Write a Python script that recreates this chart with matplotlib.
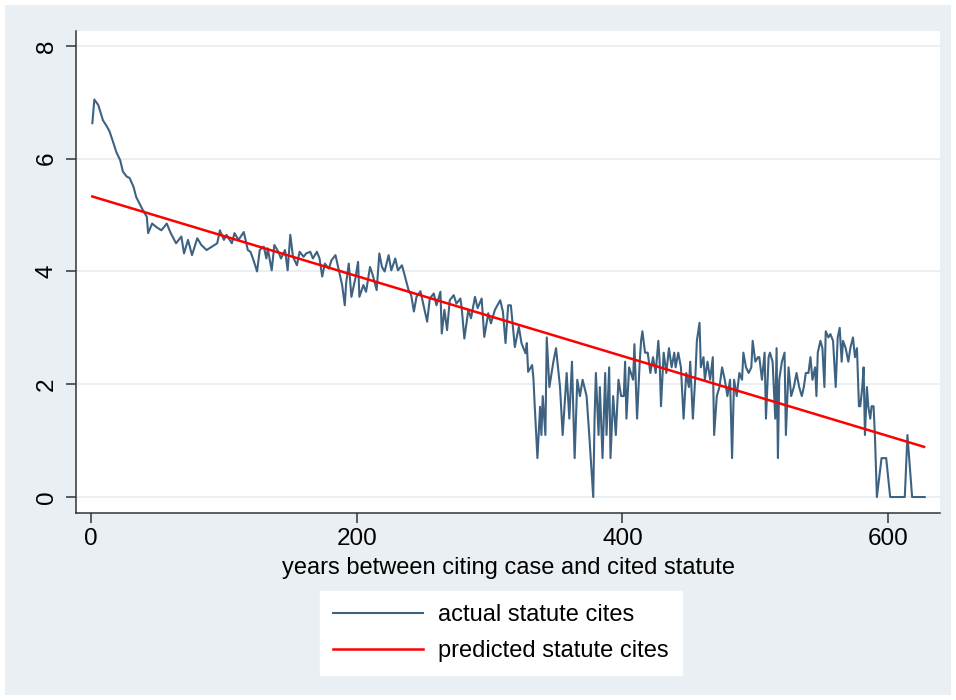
import matplotlib
matplotlib.use("Agg")
import matplotlib.pyplot as plt
from matplotlib.patches import Rectangle

# datos: anios entre caso y estatuto, citas (log)
years = [1, 2.5, 5.5, 9, 12, 14, 17, 19, 22, 24, 27, 29, 32, 34, 37, 39, 42, 43,
         46, 49, 53, 57, 60, 64, 68, 70, 73, 76, 80, 83, 87, 91, 95, 97, 100, 102,
         106, 108, 111, 115, 118, 120, 122, 125, 127, 130, 132, 133, 136, 138, 141,
         143, 146, 148, 150, 152, 155, 157, 160, 162, 165, 167, 170, 172, 174, 176,
         179, 181, 184, 186, 189, 191, 192, 194, 196, 199, 201, 202, 205, 207, 210,
         212, 215, 217, 219, 221, 224, 226, 229, 231, 234, 236, 239, 241, 243, 245,
         248, 250, 253, 255, 258, 260, 263, 264, 266, 268, 270, 273, 275, 278, 279,
         281, 284, 286, 289, 291, 294, 296, 299, 301, 304, 308, 310, 312, 314, 316,
         319, 322, 324, 327, 328, 329, 332, 333, 334, 336, 338, 339, 340, 342, 343,
         345, 348, 350, 353, 355, 358, 360, 362, 364, 366, 368, 370, 373, 375, 378,
         379, 380, 382, 383, 385, 387, 388, 390, 391, 393, 395, 397, 399, 401, 402,
         403, 405, 408, 409, 411, 413, 414, 415, 417, 419, 421, 423, 425, 427, 428,
         429, 431, 433, 435, 437, 439, 440, 442, 444, 446, 448, 450, 451, 453, 455,
         456, 458, 459, 461, 462, 464, 466, 468, 469, 471, 473, 475, 477, 479, 481,
         482.5, 484, 486, 488, 490, 491, 493, 495, 497, 498, 500, 502, 503, 505, 507,
         508, 510, 511, 513, 515, 516, 517, 518, 520, 522, 523, 525, 527, 529, 531,
         533, 535, 536.5, 538, 540, 541.5, 543, 545, 546, 547, 549, 550.5, 552, 553,
         555, 556.5, 558.5, 560.5, 562, 563.5, 565, 566, 568, 570, 571.5, 573.5, 575,
         576.5, 578, 579, 580.5, 581.5, 582.5, 584, 585, 586.5, 587.5, 589, 590,
         591.5, 595, 598.5, 601.5, 612.5, 614.5, 618, 627.5]
actual = [6.63, 7.05, 6.95, 6.68, 6.57, 6.48, 6.27, 6.12, 5.97, 5.77, 5.68, 5.66,
          5.50, 5.32, 5.18, 5.09, 4.97, 4.68, 4.85, 4.79, 4.73, 4.85, 4.68, 4.50,
          4.62, 4.32, 4.56, 4.29, 4.59, 4.47, 4.38, 4.44, 4.50, 4.73, 4.56, 4.65,
          4.50, 4.68, 4.56, 4.70, 4.38, 4.35, 4.22, 4.00, 4.38, 4.44, 4.23, 4.41,
          4.02, 4.47, 4.35, 4.23, 4.38, 4.02, 4.65, 4.26, 4.11, 4.35, 4.26, 4.32,
          4.35, 4.23, 4.35, 4.23, 3.91, 4.14, 4.05, 4.20, 4.29, 4.08, 3.76, 3.40,
          3.79, 4.14, 3.55, 3.88, 4.17, 3.55, 3.76, 3.64, 4.08, 3.94, 3.67, 4.32,
          4.08, 4.00, 4.29, 4.02, 4.23, 4.02, 4.11, 3.94, 3.67, 3.58, 3.29, 3.55,
          3.65, 3.43, 3.11, 3.52, 3.61, 3.40, 3.64, 2.90, 3.32, 2.96, 3.49, 3.58,
          3.43, 3.52, 3.35, 2.81, 3.32, 3.17, 3.55, 3.35, 3.52, 2.84, 3.26, 3.08,
          3.32, 3.49, 3.29, 2.73, 3.40, 3.40, 2.66, 3.02, 2.73, 2.55, 2.73, 2.22,
          2.34, 2.10, 1.60, 0.69, 1.60, 1.10, 1.79, 1.10, 2.83, 1.95, 2.40, 2.64,
          1.95, 1.10, 2.20, 1.39, 2.40, 0.69, 2.08, 1.79, 2.08, 1.79, 1.10, 0.00,
          1.39, 2.20, 1.10, 1.95, 0.69, 2.20, 1.10, 2.30, 0.69, 1.79, 1.10, 2.08,
          1.79, 1.79, 2.40, 1.39, 2.30, 2.08, 2.71, 1.39, 2.40, 2.77, 2.94, 2.56,
          2.56, 2.20, 2.48, 2.20, 2.77, 2.40, 1.61, 2.56, 2.20, 2.64, 2.30, 2.56,
          2.30, 2.56, 2.30, 1.39, 2.20, 1.95, 2.40, 1.39, 2.20, 2.77, 3.09, 2.30,
          2.48, 2.08, 2.40, 2.08, 2.48, 1.10, 1.79, 1.95, 2.30, 2.08, 1.79, 2.08,
          0.69, 2.08, 1.79, 2.20, 2.08, 2.56, 2.30, 2.20, 2.30, 2.77, 2.40, 2.48,
          2.48, 2.08, 2.56, 1.39, 2.48, 2.56, 2.40, 1.39, 2.64, 0.69, 2.08, 2.40,
          2.56, 1.10, 2.30, 1.79, 1.95, 2.20, 1.95, 1.79, 1.95, 2.20, 2.20, 2.48,
          2.08, 2.30, 1.79, 2.56, 2.77, 2.64, 1.95, 2.94, 2.83, 2.89, 2.77, 1.95,
          2.83, 3.00, 2.40, 2.77, 2.64, 2.40, 2.64, 2.83, 2.48, 2.64, 1.61, 1.61,
          1.95, 2.30, 1.10, 1.95, 1.61, 1.39, 1.61, 1.61, 1.10, 0.00, 0.69, 0.69,
          0.00, 0.00, 1.10, 0.00, 0.00]

# recta de prediccion (extremos)
pred_years = [1, 627]
pred_cites = [5.33, 0.89]

xticks = [0, 200, 400, 600]
yticks = [0, 2, 4, 6, 8]

plt.rcParams['font.family'] = ['Liberation Sans', 'DejaVu Sans']

bg = '#E9EFF2'
fig = plt.figure(figsize=(9.56, 7.0), dpi=100, facecolor='white')
fig.patches.append(Rectangle((5 / 956, 5 / 700), 946 / 956, 690 / 700,
                             transform=fig.transFigure, facecolor=bg,
                             edgecolor='none', zorder=-10))

ax = fig.add_axes([76 / 956, 1 - 512.7 / 700, 864 / 956, 482 / 700])
ax.set_facecolor('white')

ax.plot(years, actual, color='#3E6282', lw=1.5, label='actual statute cites')
ax.plot(pred_years, pred_cites, color='#FF0000', lw=1.8, label='predicted statute cites')

ax.set_xlim(-11.3, 639)
ax.set_ylim(-0.278, 8.27)
ax.set_xticks(xticks)
ax.set_yticks(yticks)
ax.tick_params(axis='both', labelsize=17.5, length=7, width=1.1, color='#333333')
ax.tick_params(axis='x', pad=4)
ax.tick_params(axis='y', pad=6)
for lbl in ax.get_yticklabels():
    lbl.set_rotation(90)
    lbl.set_va('center')

ax.grid(axis='y', color='#E8EEF1', lw=1.3)
ax.set_axisbelow(True)
for s in ['top', 'right']:
    ax.spines[s].set_visible(False)
for s in ['left', 'bottom']:
    ax.spines[s].set_color('#333333')
    ax.spines[s].set_linewidth(1.1)

ax.set_xlabel('years between citing case and cited statute', fontsize=17, labelpad=5)

leg = fig.legend(loc='upper left', bbox_to_anchor=(320 / 956, 1 - 591 / 700),
                 borderaxespad=0, fontsize=17, handlelength=3.8, handletextpad=0.65,
                 labelspacing=0.6, borderpad=0.55, fancybox=False)
leg.get_frame().set_facecolor('white')
leg.get_frame().set_edgecolor('white')
leg.get_frame().set_alpha(1)

plt.savefig('out.png', dpi=100, facecolor=fig.get_facecolor())
